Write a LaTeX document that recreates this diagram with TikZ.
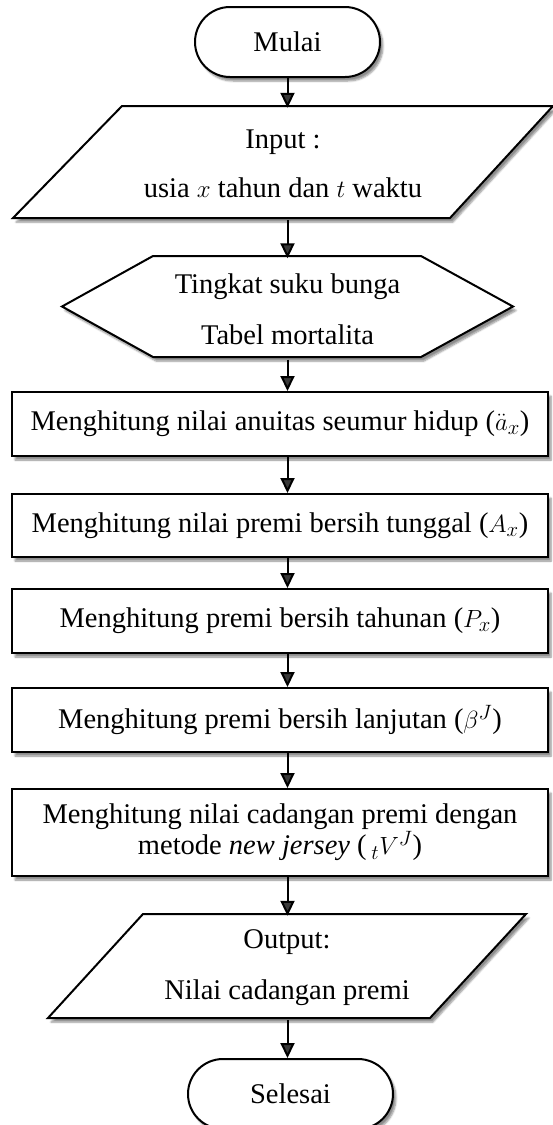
\documentclass[tikz,border=0pt]{standalone}
\usepackage{fontspec}
\setmainfont{Liberation Serif}
\usetikzlibrary{arrows.meta,shadows.blur}
\tikzset{
  shp/.style={draw=black, line width=2pt, fill=white,
    blur shadow={shadow xshift=3pt, shadow yshift=-4pt, shadow blur steps=6, shadow opacity=45}},
  txt/.style={inner sep=0pt, align=center, font=\fontsize{28.5}{31}\selectfont},
  term/.style={shp, txt, rounded corners=35pt, minimum height=70pt},
  procbox/.style={shp, txt, minimum width=536pt},
  arr/.style={line width=2pt, -{Triangle[length=15pt,width=14pt]}}
}
\begin{document}
\begin{tikzpicture}[x=1pt,y=-1pt]
\useasboundingbox (0,0) rectangle (553,1125);
\coordinate (axis) at (287.5,0);

% Start
\node[term, minimum width=185pt] (mulai) at (287.5,42) {Mulai};

% Input
\draw[shp] (122,106) -- (553,106) -- (450,218) -- (13,218) -- cycle;
\node[txt, minimum width=540pt, minimum height=112pt] (inp) at (283,164)
  {Input :\\[18pt] usia $x$ tahun dan $t$ waktu};

% Preparation (hexagon)
\draw[shp] (62,306.5) -- (153,256) -- (421,256) -- (513,306.5) -- (421,357) -- (153,357) -- cycle;
\node[txt, minimum width=451pt, minimum height=101pt] (hex) at (287.5,309)
  {Tingkat suku bunga\\[20pt] Tabel mortalita};

% Processes
\node[procbox, minimum height=64pt] (b1) at (280,424)
  {Menghitung nilai anuitas seumur hidup ($\ddot{a}_{x}$)};
\node[procbox, minimum height=63pt] (b2) at (280,525.5)
  {Menghitung nilai premi bersih tunggal ($A_{x}$)};
\node[procbox, minimum height=64pt] (b3) at (280,621)
  {Menghitung premi bersih tahunan ($P_{x}$)};
\node[procbox, minimum height=64pt] (b4) at (280,720)
  {Menghitung premi bersih lanjutan ($\beta^{J}$)};
\node[procbox, minimum height=87pt] (b5) at (280,832.5)
  {Menghitung nilai cadangan premi dengan\\ metode \textit{new jersey} (\,${}_{t}V^{J}$)};

% Output
\draw[shp] (143,914) -- (526,914) -- (430,1018) -- (48,1018) -- cycle;
\node[txt, minimum width=478pt, minimum height=104pt] (outp) at (287,968)
  {Output:\\[20pt] Nilai cadangan premi};

% End
\node[term, minimum width=205pt] (selesai) at (290.5,1094) {Selesai};

% Connectors
\draw[arr] (mulai.south -| axis) -- (inp.north -| axis);
\draw[arr] (inp.south -| axis) -- (hex.north -| axis);
\draw[arr] (hex.south -| axis) -- (b1.north -| axis);
\draw[arr] (b1.south -| axis) -- (b2.north -| axis);
\draw[arr] (b2.south -| axis) -- (b3.north -| axis);
\draw[arr] (b3.south -| axis) -- (b4.north -| axis);
\draw[arr] (b4.south -| axis) -- (b5.north -| axis);
\draw[arr] (b5.south -| axis) -- (outp.north -| axis);
\draw[arr] (outp.south -| axis) -- (selesai.north -| axis);
\end{tikzpicture}
\end{document}
